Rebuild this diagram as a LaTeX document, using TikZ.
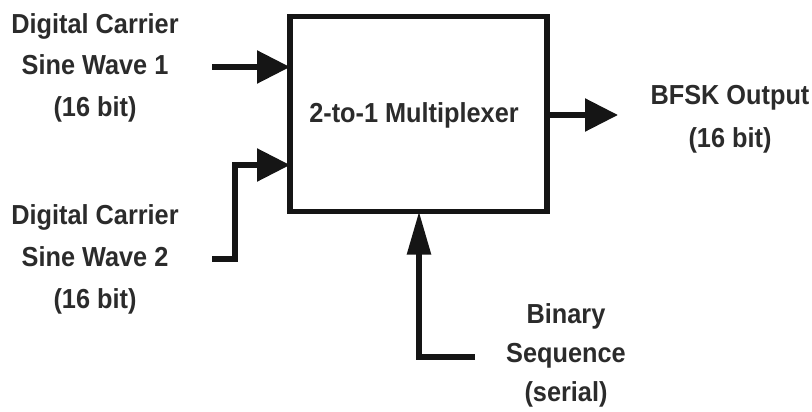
\documentclass[tikz,border=0pt]{standalone}
\usepackage{fontspec}
\setmainfont{Liberation Sans}[FakeStretch=0.92]
\usetikzlibrary{arrows.meta}
\definecolor{txt}{HTML}{2B2B2B}
\definecolor{ink}{HTML}{151515}
\tikzset{
  lbl/.style={font=\fontsize{27.5}{42}\selectfont\bfseries, text=txt, align=center, inner sep=0pt, anchor=base},
  wire/.style={draw=ink, line width=5.5pt},
  arrH/.style={wire, -{Triangle[length=33pt,width=32pt]}},
  arrV/.style={wire, -{Triangle[length=43pt,width=23pt]}},
  boxst/.style={draw=ink, line width=5.5pt, minimum width=257pt, minimum height=195pt, inner sep=0pt, outer sep=0pt}
}
\begin{document}
\begin{tikzpicture}[x=1pt,y=-1pt]
\useasboundingbox (0,0) rectangle (812,412);
\node[boxst] (mux) at (418.5,114) {};
\node[lbl] (muxt) at (414,122) {2-to-1 Multiplexer};
\node[lbl] (in1) at (95,117) {Digital Carrier\\Sine Wave 1\\(16 bit)};
\node[lbl] (in2) at (95,308) {Digital Carrier\\Sine Wave 2\\(16 bit)};
\node[lbl, font=\fontsize{27.5}{43}\selectfont\bfseries] (out) at (730,147) {BFSK Output\\(16 bit)};
\node[lbl, font=\fontsize{27.5}{39}\selectfont\bfseries] (bin) at (566,401) {Binary\\Sequence\\(serial)};
\coordinate (s1) at (212,67);
\coordinate (s2) at (212,259);
\coordinate (s2c) at (235,259);
\coordinate (s2d) at (235,165);
\coordinate (o1) at (618,115);
\coordinate (b1) at (475,357);
\coordinate (b2) at (419,357);
\draw[arrH] (s1) -- (s1 -| mux.west);
\draw[arrH] (s2) -- (s2c) -- (s2d) -- (s2d -| mux.west);
\draw[arrH] (o1 -| mux.east) -- (o1);
\draw[arrV] (b1) -- (b2) -- (b2 |- mux.south);
\end{tikzpicture}
\end{document}
